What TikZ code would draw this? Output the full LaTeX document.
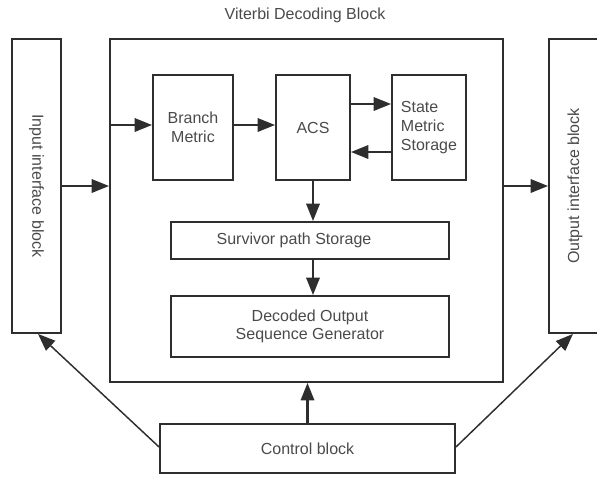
\documentclass[tikz,border=0pt]{standalone}
\usepackage{fontspec}
\setmainfont{Liberation Sans}
\usetikzlibrary{arrows.meta,calc}
\definecolor{linegray}{HTML}{2E2E2E}
\definecolor{textgray}{HTML}{4A4A4A}
\begin{document}
\begin{tikzpicture}[x=0.75pt,y=-0.75pt,
  font=\fontsize{12}{14}\selectfont,
  blk/.style={draw=linegray,line width=1.4pt,text=textgray,inner sep=0pt,align=center},
  arr/.style={draw=linegray,line width=1.6pt,-{Triangle[length=13pt,width=10pt]}},
  thinarr/.style={draw=linegray,line width=1.1pt,-{Triangle[length=13pt,width=10pt]}}]
\useasboundingbox (0,0) rectangle (597,476);

% title
\node[text=textgray] (title) at (305,15) {Viterbi Decoding Block};

% outer blocks (the output block runs past the right edge)
\node[blk,minimum width=36.75pt,minimum height=220.5pt] (inbox) at (36.5,186)
  {\rotatebox{-90}{Input interface block}};
\node[blk,minimum width=294.75pt,minimum height=257.25pt] (main) at (306.5,210.5) {};
\node[blk,minimum width=45pt,minimum height=220.5pt] (outbox) at (579,186)
  {\rotatebox{90}{Output interface block}\hspace*{6pt}};
\node[blk,minimum width=221.25pt,minimum height=36.75pt] (ctrl) at (307.5,448.5) {Control block};

% inner blocks
\node[blk,minimum width=60pt,minimum height=78.75pt] (bm) at (193,127.5) {Branch\\Metric};
\node[blk,minimum width=55.5pt,minimum height=78.75pt] (acs) at (313,127.5) {ACS};
\node[blk,minimum width=55.5pt,minimum height=78.75pt,align=left] (sms) at (429,127.5)
  {State\\Metric\\Storage};
\node[blk,minimum width=208.5pt,minimum height=27.75pt] (surv) at (310,240.5)
  {\hspace*{-24pt}Survivor path Storage};
\node[blk,minimum width=208.5pt,minimum height=45.75pt] (dec) at (310,326.5)
  {Decoded Output\\Sequence Generator};

% data flow
\draw[arr] (inbox.east) -- (inbox.east -| main.west);
\draw[arr] ($(bm.west -| main.west)+(0,-2.5)$) -- ($(bm.west)+(0,-2.5)$);
\draw[arr] ($(bm.east)+(0,-2.5)$) -- ($(acs.west)+(0,-2.5)$);
\draw[arr] ($(acs.east)+(0,-23.5)$) -- ($(sms.west)+(0,-23.5)$);
\draw[arr] ($(sms.west)+(0,24.5)$) -- ($(acs.east)+(0,24.5)$);
\draw[arr] (acs.south) -- (acs.south |- surv.north);
\draw[arr] (acs.south |- surv.south) -- (acs.south |- dec.north);
\draw[arr] (main.east |- outbox.west) -- (outbox.west);

% control
\draw[arr] (ctrl.north) -- (ctrl.north |- main.south);
\draw[thinarr] ($(ctrl.west)+(0,-1.5)$) -- ($(inbox.south)+(1.5,0)$);
\draw[thinarr] ($(ctrl.east)+(0,-1.5)$) -- ($(outbox.south)+(-6,0)$);
\end{tikzpicture}
\end{document}
